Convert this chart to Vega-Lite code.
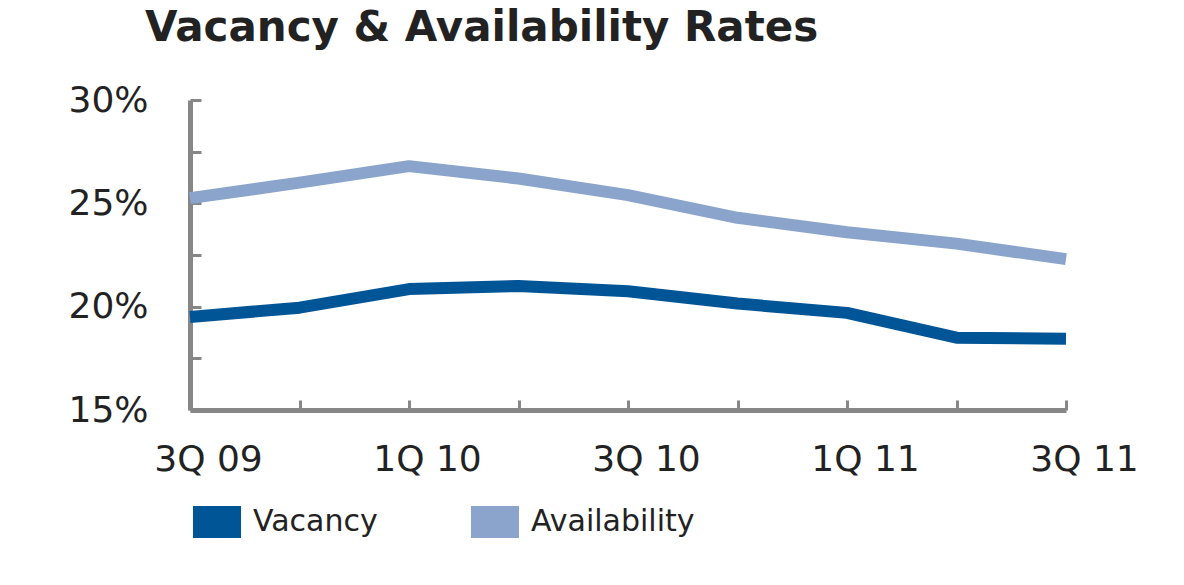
{
  "$schema": "https://vega.github.io/schema/vega-lite/v6.json",
  "autosize": {"type": "none"},
  "padding": {"left": 190, "top": 100, "right": 118, "bottom": 175},
  "width": 876,
  "height": 310,
  "background": "white",
  "title": {
    "text": "Vacancy & Availability Rates",
    "anchor": "start",
    "frame": "group",
    "font": "DejaVu Sans",
    "fontSize": 42,
    "fontWeight": "bold",
    "color": "#222222",
    "baseline": "alphabetic",
    "offset": 37,
    "dx": -45,
    "dy": 38
  },
  "data": {
    "values": [
      {"q": "3Q 09", "series": "Vacancy", "rate": 19.5},
      {"q": "4Q 09", "series": "Vacancy", "rate": 19.95},
      {"q": "1Q 10", "series": "Vacancy", "rate": 20.85},
      {"q": "2Q 10", "series": "Vacancy", "rate": 21.0},
      {"q": "3Q 10", "series": "Vacancy", "rate": 20.75},
      {"q": "4Q 10", "series": "Vacancy", "rate": 20.15},
      {"q": "1Q 11", "series": "Vacancy", "rate": 19.7},
      {"q": "2Q 11", "series": "Vacancy", "rate": 18.5},
      {"q": "3Q 11", "series": "Vacancy", "rate": 18.45},
      {"q": "3Q 09", "series": "Availability", "rate": 25.25},
      {"q": "4Q 09", "series": "Availability", "rate": 26.0},
      {"q": "1Q 10", "series": "Availability", "rate": 26.8},
      {"q": "2Q 10", "series": "Availability", "rate": 26.2},
      {"q": "3Q 10", "series": "Availability", "rate": 25.4},
      {"q": "4Q 10", "series": "Availability", "rate": 24.3},
      {"q": "1Q 11", "series": "Availability", "rate": 23.6},
      {"q": "2Q 11", "series": "Availability", "rate": 23.05},
      {"q": "3Q 11", "series": "Availability", "rate": 22.3}
    ]
  },
  "mark": {"type": "line", "strokeWidth": 12, "interpolate": "linear", "strokeCap": "butt", "strokeJoin": "round"},
  "encoding": {
    "x": {
      "field": "q",
      "type": "ordinal",
      "sort": ["3Q 09", "4Q 09", "1Q 10", "2Q 10", "3Q 10", "4Q 10", "1Q 11", "2Q 11", "3Q 11"],
      "scale": {"type": "point", "padding": 0},
      "axis": {
        "title": null,
        "labelAngle": 0,
        "labelExpr": "indexof(['3Q 09','1Q 10','3Q 10','1Q 11','3Q 11'], datum.value) >= 0 ? datum.value : ''",
        "labelFont": "DejaVu Sans",
        "labelFontSize": 36,
        "labelColor": "#222222",
        "labelPadding": 42,
        "labelOffset": 18,
        "labelBaseline": "top",
        "labelOverlap": false,
        "domainColor": "#878787",
        "domainWidth": 5,
        "tickColor": "#878787",
        "tickWidth": 3,
        "tickSize": -10,
        "grid": false
      }
    },
    "y": {
      "field": "rate",
      "type": "quantitative",
      "scale": {"domain": [15, 30], "nice": false, "zero": false},
      "axis": {
        "title": null,
        "values": [15, 17.5, 20, 22.5, 25, 27.5, 30],
        "labelExpr": "datum.value % 5 == 0 ? datum.value + '%' : ''",
        "labelFont": "DejaVu Sans",
        "labelFontSize": 36,
        "labelColor": "#222222",
        "labelPadding": 53,
        "labelOverlap": false,
        "labelBaseline": "middle",
        "domainColor": "#878787",
        "domainWidth": 5,
        "tickColor": "#878787",
        "tickWidth": 3,
        "tickSize": -11,
        "grid": false
      }
    },
    "color": {
      "field": "series",
      "type": "nominal",
      "scale": {"domain": ["Vacancy", "Availability"], "range": ["#005596", "#8aa4cc"]},
      "legend": {
        "title": null,
        "orient": "none",
        "legendX": 11,
        "legendY": 406,
        "direction": "horizontal",
        "padding": 0,
        "symbolType": "M-1.5,-1H1.5V1H-1.5Z",
        "symbolSize": 1024,
        "symbolStrokeWidth": 0,
        "labelFont": "DejaVu Sans",
        "labelFontSize": 30,
        "labelColor": "#222222",
        "labelOffset": 20,
        "labelLimit": 400,
        "columnPadding": 93,
        "encode": {
          "symbols": {"update": {"fill": {"scale": "color", "field": "value"}, "strokeWidth": {"value": 0}}}
        }
      }
    }
  },
  "config": {"view": {"stroke": null}}
}
